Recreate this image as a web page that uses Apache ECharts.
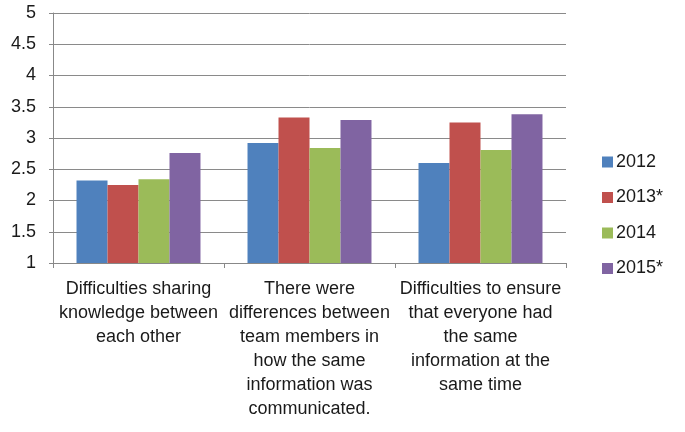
<!DOCTYPE html>
<html><head><meta charset="utf-8">
<script src="https://cdn.jsdelivr.net/npm/echarts@6/dist/echarts.min.js"></script>
<style>html,body{margin:0;padding:0;background:#fff}#c{width:685px;height:432px}</style>
</head><body><div id="c"></div>
<script>
const categories = [
  "Difficulties sharing\nknowledge between\neach other",
  "There were\ndifferences between\nteam members in\nhow the same\ninformation was\ncommunicated.",
  "Difficulties to ensure\nthat everyone had\nthe same\ninformation at the\nsame time"
];
const seriesNames = ["2012", "2013*", "2014", "2015*"];
const colors = ["#4f81bd", "#c0504d", "#9bbb59", "#8064a2"];
const v2012 = [2.32, 2.92, 2.60];
const v2013 = [2.25, 3.33, 3.25];
const v2014 = [2.34, 2.84, 2.81];
const v2015 = [2.76, 3.29, 3.38];
const yTicks = { min: 1, max: 5, interval: 0.5 };

const values = [v2012, v2013, v2014, v2015];
const font = "Liberation Sans, Arial, sans-serif";
const chart = echarts.init(document.getElementById('c'), null, {renderer: 'canvas'});
chart.setOption({
  animation: false,
  textStyle: { fontFamily: font },
  grid: { left: 53, right: 119, top: 13, bottom: 169, containLabel: false },
  legend: {
    orient: 'vertical', left: 597, top: 148,
    itemWidth: 11, itemHeight: 11, itemGap: 17.5,
    icon: 'rect',
    textStyle: { fontSize: 18, color: '#1a1a1a', fontFamily: font, padding: [0, 0, 0, -2] },
    data: seriesNames
  },
  xAxis: {
    type: 'category', data: categories,
    axisLine: { lineStyle: { color: '#888', width: 1 } },
    axisTick: { show: true, length: 5, alignWithLabel: false, lineStyle: { color: '#888' } },
    axisLabel: { fontSize: 18, color: '#1a1a1a', lineHeight: 24, margin: 14, interval: 0, fontFamily: font }
  },
  yAxis: {
    type: 'value', min: yTicks.min, max: yTicks.max, interval: yTicks.interval,
    axisLine: { show: true, lineStyle: { color: '#888', width: 1 } },
    axisTick: { show: true, length: 4, lineStyle: { color: '#888' } },
    axisLabel: { fontSize: 18, color: '#1a1a1a', margin: 17, fontFamily: font },
    splitLine: { lineStyle: { color: '#8a8a8a', width: 1 } }
  },
  series: seriesNames.map((n, i) => ({
    name: n, type: 'bar', data: values[i],
    itemStyle: { color: colors[i] },
    barGap: '0%', barCategoryGap: '27.5%'
  }))
});
</script></body></html>
